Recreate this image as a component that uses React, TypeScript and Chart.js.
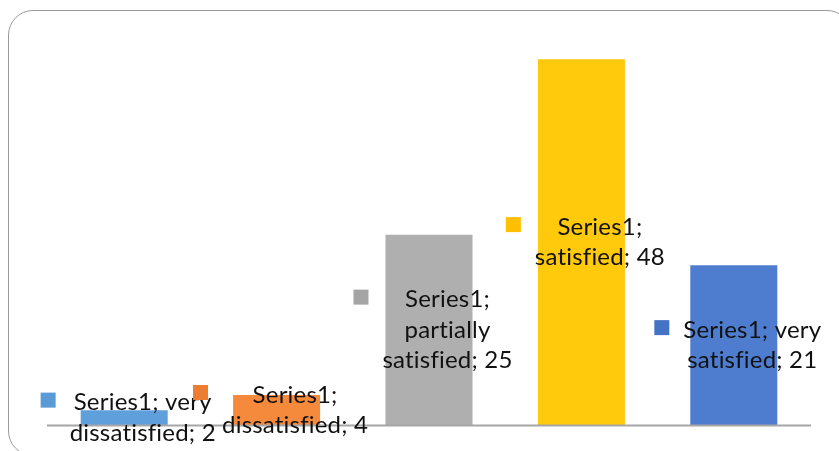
import React, { useEffect, useRef } from "react";
import { Chart, registerables } from "chart.js";

Chart.register(...registerables);

const seriesName = "Series1";
const categories = ["very dissatisfied", "dissatisfied", "partially satisfied", "satisfied", "very satisfied"];
const values = [2, 4, 25, 48, 21];
const barColors = ["#5FA0DC", "#F58A3C", "#AFAFAF", "#FFC90C", "#4E7DCF"];
const keyColors = ["#5B9BD5", "#ED7D31", "#A5A5A5", "#FFC000", "#4472C4"];

const WIDTH = 839;
const HEIGHT = 451;
const LABEL_FONT = "24px Lato";
const LINE_HEIGHT = 30.5;
const WRAP_WIDTH = 152;
const KEY_SIZE = 15;
const KEY_GAP = 14;

function wrap(ctx: CanvasRenderingContext2D, text: string, maxWidth: number): string[] {
  const words = text.split(" ");
  const lines: string[] = [];
  let current = "";
  for (const w of words) {
    const trial = current ? current + " " + w : w;
    if (current && ctx.measureText(trial).width > maxWidth) {
      lines.push(current);
      current = w;
    } else {
      current = trial;
    }
  }
  if (current) lines.push(current);
  return lines;
}

// Baseline under the bars plus "series; category; value" labels with legend keys
const labelPlugin = {
  id: "barLabels",
  afterDatasetsDraw(chart: any) {
    const ctx: CanvasRenderingContext2D = chart.ctx;
    const area = chart.chartArea;
    const y = chart.scales.y;
    const zeroY = y.getPixelForValue(0);

    ctx.save();
    ctx.strokeStyle = "#A6A6A6";
    ctx.lineWidth = 2;
    ctx.beginPath();
    ctx.moveTo(area.left - 1, zeroY);
    ctx.lineTo(area.right + 1, zeroY);
    ctx.stroke();

    ctx.font = LABEL_FONT;
    // a little tracking keeps "fi" as two separate letters
    (ctx as any).letterSpacing = "0.2px";
    ctx.fillStyle = "#000000";
    ctx.textBaseline = "middle";
    ctx.textAlign = "center";

    const meta = chart.getDatasetMeta(0);
    meta.data.forEach((bar: any, i: number) => {
      const text = `${seriesName}; ${categories[i]}; ${values[i]}`;
      const lines = wrap(ctx, text, WRAP_WIDTH);
      const textW = Math.max(...lines.map((l) => ctx.measureText(l).width));
      const blockW = KEY_SIZE + KEY_GAP + textW;
      const cx = bar.x + 4;
      const cy = (bar.y + bar.base) / 2;
      const blockLeft = cx - blockW / 2;
      const textCx = blockLeft + KEY_SIZE + KEY_GAP + textW / 2;
      const firstY = cy - ((lines.length - 1) * LINE_HEIGHT) / 2;

      ctx.fillStyle = keyColors[i];
      ctx.fillRect(blockLeft, firstY - 2.5 - KEY_SIZE / 2, KEY_SIZE, KEY_SIZE);

      ctx.fillStyle = "#111111";
      lines.forEach((line, k) => {
        ctx.fillText(line, textCx, firstY + k * LINE_HEIGHT);
      });
    });
    ctx.restore();
  },
};

export default function App() {
  const canvasRef = useRef<HTMLCanvasElement | null>(null);

  useEffect(() => {
    if (!canvasRef.current) return;
    const chart = new Chart(canvasRef.current, {
      type: "bar",
      data: {
        labels: categories,
        datasets: [
          {
            label: seriesName,
            data: values,
            backgroundColor: barColors,
            borderWidth: 0,
            categoryPercentage: 1,
            barPercentage: 0.571,
          },
        ],
      },
      options: {
        responsive: false,
        animation: false,
        layout: { padding: { left: 48, right: 29, top: 44, bottom: 25.5 } },
        plugins: {
          legend: { display: false },
          tooltip: { enabled: false },
          title: { display: false },
        },
        scales: {
          x: { display: false },
          y: { display: false, min: 0, max: 50 },
        },
      },
      plugins: [labelPlugin],
    });
    return () => chart.destroy();
  }, []);

  return (
    <div
      style={{
        position: "fixed",
        left: 0,
        top: 0,
        width: WIDTH,
        height: HEIGHT,
        overflow: "hidden",
        background: "#ffffff",
      }}
    >
      <div
        style={{
          position: "absolute",
          left: 8,
          top: 10,
          width: 844,
          height: 446,
          boxSizing: "border-box",
          border: "1.5px solid #9B9B9B",
          borderRadius: 25,
        }}
      />
      <canvas
        ref={canvasRef}
        width={WIDTH}
        height={HEIGHT}
        style={{ position: "absolute", left: 0, top: 0, width: WIDTH, height: HEIGHT }}
      />
    </div>
  );
}
